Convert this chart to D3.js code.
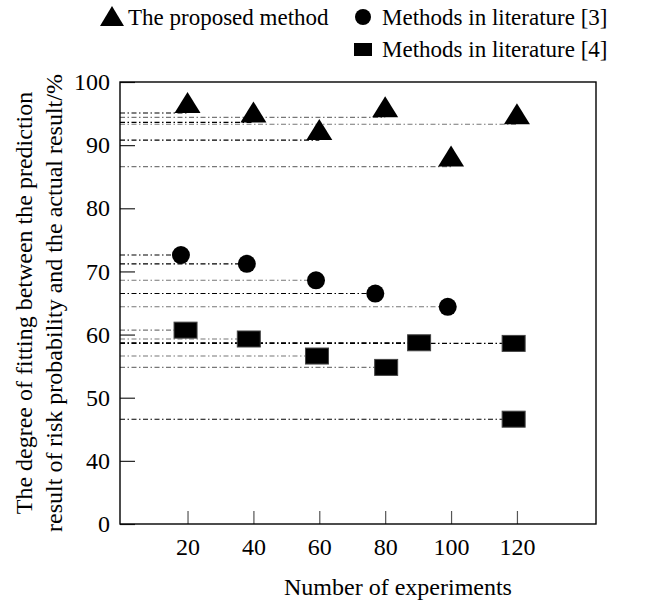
<!DOCTYPE html>
<html>
<head>
<meta charset="utf-8">
<script src="https://cdn.jsdelivr.net/npm/d3@7"></script>
<style>
  body { margin: 0; background: #fff; }
  svg text { font-family: "Liberation Serif", Tinos, "Times New Roman", Times, "DejaVu Serif", serif; fill: #000; }
</style>
</head>
<body>
<div id="chart"></div>
<script>
let width = 669;
let height = 603;
let margin = ({top: 82, right: 73, bottom: 79, left: 120});

// values
let xTicks = [20, 40, 60, 80, 100, 120];
let yTicks = [0, 40, 50, 60, 70, 80, 90, 100];

let proposedX = [20, 40, 60, 80, 100, 120];
let proposedY = [95.1, 93.6, 90.8, 94.4, 86.6, 93.3];

let lit3X = [18, 38, 59, 77, 99];
let lit3Y = [72.6, 71.2, 68.6, 66.5, 64.4];

let lit4X = [19.4, 38.6, 59.3, 80.3, 90.3, 119, 119];
let lit4Y = [60.7, 59.3, 56.6, 54.8, 58.7, 58.6, 46.6];

let legendNames = ["The proposed method", "Methods in literature [3]", "Methods in literature [4]"];
let xTitle = "Number of experiments";
let yTitle = ["The degree of fitting between the prediction",
              "result of risk probability and the actual result/%"];

// tone of each drop line (style only)
let proposedTone = ["#000", "#000", "#000", "#777", "#777", "#777"];
let lit3Tone = ["#000", "#000", "#777", "#000", "#777"];
let lit4Tone = ["#777", "#777", "#777", "#777", "#000", "#000", "#000"];

let serif = '"Liberation Serif", Tinos, "Times New Roman", Times, "DejaVu Serif", serif';

let svg = d3.select("#chart")
    .append("svg")
    .attr("width", width)
    .attr("height", height)
    .attr("font-family", serif);

let xScale = d3.scaleLinear()
    .domain([-0.5, 144])
    .range([margin.left, width - margin.right]);

// broken axis: 0 -> 40 takes one tick step, same as every 10 above it
let bottom = height - margin.bottom;
let step = (bottom - margin.top) / (yTicks.length - 1);
let yScale = d3.scaleLinear()
    .domain([0, 40, 100])
    .range([bottom, bottom - step, margin.top]);

let xAxis = d3.axisBottom(xScale)
    .tickValues(xTicks)
    .tickSizeInner(-13)
    .tickSizeOuter(0)
    .tickPadding(14);

let yAxis = d3.axisLeft(yScale)
    .tickValues(yTicks)
    .tickSizeInner(-15)
    .tickSizeOuter(0)
    .tickPadding(10);

let gx = svg.append("g")
    .attr("transform", "translate(0," + bottom + ")")
    .call(xAxis)
    .attr("font-family", serif)
    .attr("font-size", 24);
gx.select(".domain").remove();
gx.selectAll(".tick line").attr("stroke", "#555").attr("stroke-width", 1.2);

let gy = svg.append("g")
    .attr("transform", "translate(" + margin.left + ",0)")
    .call(yAxis)
    .attr("font-family", serif)
    .attr("font-size", 24);
gy.select(".domain").remove();
gy.selectAll(".tick line").attr("stroke", "#222").attr("stroke-width", 1.2);

// drop lines from the y axis to each marker
let dash = "5,2.5,1.5,2.5";
function dropLines(xs, ys, tones) {
    svg.append("g")
        .selectAll("line")
        .data(ys)
        .join("line")
        .attr("x1", margin.left)
        .attr("x2", (d, i) => xScale(xs[i]))
        .attr("y1", d => yScale(d))
        .attr("y2", d => yScale(d))
        .attr("stroke", (d, i) => tones[i])
        .attr("stroke-width", 1.1)
        .attr("stroke-dasharray", dash);
}
dropLines(proposedX, proposedY, proposedTone);
dropLines(lit3X, lit3Y, lit3Tone);
dropLines(lit4X, lit4Y, lit4Tone);

// frame
svg.append("rect")
    .attr("x", margin.left)
    .attr("y", margin.top)
    .attr("width", width - margin.left - margin.right)
    .attr("height", bottom - margin.top)
    .attr("fill", "none")
    .attr("stroke", "#000")
    .attr("stroke-width", 1.4);

// markers
let triW = 26, triH = 21;
function triPath(cx, by, w, h) {
    return "M" + (cx - w / 2) + "," + by + "L" + (cx + w / 2) + "," + by + "L" + cx + "," + (by - h) + "Z";
}

svg.append("g")
    .selectAll("path")
    .data(proposedY)
    .join("path")
    .attr("d", (d, i) => triPath(xScale(proposedX[i]), yScale(d), triW, triH))
    .attr("fill", "#000");

svg.append("g")
    .selectAll("circle")
    .data(lit3Y)
    .join("circle")
    .attr("cx", (d, i) => xScale(lit3X[i]))
    .attr("cy", d => yScale(d))
    .attr("r", 9)
    .attr("fill", "#000");

let sqW = 23, sqH = 16;
svg.append("g")
    .selectAll("rect")
    .data(lit4Y)
    .join("rect")
    .attr("x", (d, i) => xScale(lit4X[i]) - sqW / 2)
    .attr("y", d => yScale(d) - sqH / 2)
    .attr("width", sqW)
    .attr("height", sqH)
    .attr("fill", "#000")
    .attr("stroke", "#444")
    .attr("stroke-width", 1);

// axis titles
svg.append("text")
    .attr("x", 398)
    .attr("y", 595)
    .attr("text-anchor", "middle")
    .attr("font-size", 24)
    .text(xTitle);

let midY = (margin.top + bottom) / 2;
svg.append("g")
    .selectAll("text")
    .data(yTitle)
    .join("text")
    .attr("transform", (d, i) => "translate(" + (32 + i * 30) + "," + midY + ") rotate(-90)")
    .attr("text-anchor", "middle")
    .attr("font-size", 24)
    .text(d => d);

// legend
let legend = svg.append("g");
legend.append("path")
    .attr("d", triPath(112, 26, 24, 20))
    .attr("fill", "#000");
legend.append("text")
    .attr("x", 128).attr("y", 25)
    .attr("font-size", 23)
    .text(legendNames[0]);

legend.append("circle")
    .attr("cx", 363).attr("cy", 17).attr("r", 8)
    .attr("fill", "#000");
legend.append("text")
    .attr("x", 382).attr("y", 25)
    .attr("font-size", 23)
    .text(legendNames[1]);

legend.append("rect")
    .attr("x", 354).attr("y", 43).attr("width", 18).attr("height", 13)
    .attr("fill", "#000");
legend.append("text")
    .attr("x", 382).attr("y", 57)
    .attr("font-size", 23)
    .text(legendNames[2]);
</script>
</body>
</html>
